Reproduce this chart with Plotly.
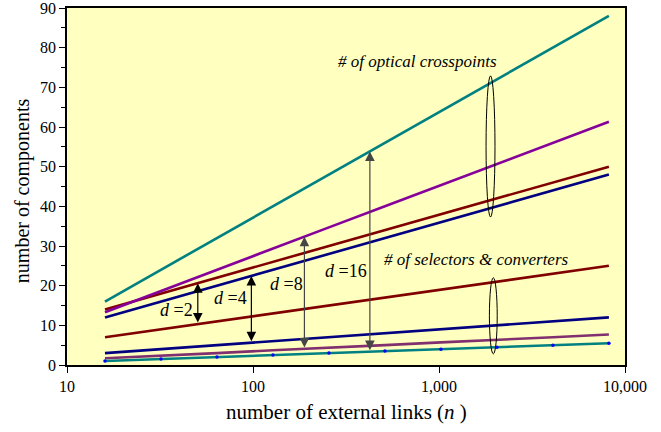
import numpy as np
import plotly.graph_objects as go

# ---- data ----
n_links = [16, 32, 64, 128, 256, 512, 1024, 2048, 4096, 8192]

cross_d2 = [14, 18, 22, 26, 30, 34, 38, 42, 46, 50]
cross_d4 = [12, 16, 20, 24, 28, 32, 36, 40, 44, 48]
cross_d8 = [13.3, 18.7, 24.0, 29.3, 34.7, 40.0, 45.3, 50.7, 56.0, 61.3]
cross_d16 = [16, 24, 32, 40, 48, 56, 64, 72, 80, 88]

sel_d2 = [7, 9, 11, 13, 15, 17, 19, 21, 23, 25]
sel_d4 = [3, 4, 5, 6, 7, 8, 9, 10, 11, 12]
sel_d8 = [1.7, 2.3, 3.0, 3.7, 4.3, 5.0, 5.7, 6.3, 7.0, 7.7]
sel_d16 = [1.0, 1.5, 2.0, 2.5, 3.0, 3.5, 4.0, 4.5, 5.0, 5.5]

d_values = [2, 4, 8, 16]
arrow_n = [50.5, 98, 189, 425]

x_tickvals = [10, 100, 1000, 10000]
x_ticktext = ["10", "100", "1,000", "10,000"]

FONT = "Liberation Serif, DejaVu Serif, serif"

fig = go.Figure()

def line(y, color, width=2.6, markers=False):
    fig.add_trace(go.Scatter(
        x=n_links, y=y, mode="lines+markers" if markers else "lines",
        line=dict(color=color, width=width),
        marker=dict(color="#0000FF", size=3.5) if markers else None,
        showlegend=False, hoverinfo="skip"))

# crosspoints
line(cross_d2, "#800000")
line(cross_d4, "#000080")
line(cross_d8, "#86009A")
line(cross_d16, "#008080")
# selectors & converters
line(sel_d2, "#800000")
line(sel_d4, "#000080")
line(sel_d8, "#80306E")
line(sel_d16, "#008080", markers=True)

upper = [cross_d2, cross_d4, cross_d8, cross_d16]
lower = [sel_d2, sel_d4, sel_d8, sel_d16]
arrow_colors = ["#000000", "#000000", "#454545", "#454545"]
logn = np.log2(n_links)
annotations = []
for d, na, up, lo, col in zip(d_values, arrow_n, upper, lower, arrow_colors):
    yu = float(np.interp(np.log2(na), logn, up))
    yl = float(np.interp(np.log2(na), logn, lo))
    annotations.append(dict(
        x=np.log10(na), y=yu, ax=np.log10(na), ay=yl,
        xref="x", yref="y", axref="x", ayref="y",
        text="", showarrow=True, arrowside="end+start",
        arrowhead=2, startarrowhead=2, arrowsize=1.6, startarrowsize=1.6,
        arrowwidth=1.2, arrowcolor=col, standoff=0, startstandoff=0))

label_pos = [(1.59, 13.9), (1.88, 17.0), (2.18, 20.3), (2.50, 23.7)]
for d, (lx, ly) in zip(d_values, label_pos):
    annotations.append(dict(
        x=lx, y=ly, xref="x", yref="y", showarrow=False,
        text=f"<i>d</i> =%d" % d,
        font=dict(family=FONT, size=18, color="#000000")))

annotations.append(dict(
    x=2.882, y=76.4, xref="x", yref="y", showarrow=False,
    text="<i># of optical crosspoints</i>",
    font=dict(family=FONT, size=17, color="#000000")))
annotations.append(dict(
    x=3.202, y=26.5, xref="x", yref="y", showarrow=False,
    text="<i># of selectors &amp; converters</i>",
    font=dict(family=FONT, size=17, color="#000000")))

# axis titles
annotations.append(dict(
    x=0.5, y=-0.132, xref="paper", yref="paper", showarrow=False,
    xanchor="center", yanchor="middle",
    text="number of external links (<i>n</i> )",
    font=dict(family=FONT, size=21, color="#000000")))
annotations.append(dict(
    x=-0.0806, y=0.487, xref="paper", yref="paper", showarrow=False,
    xanchor="center", yanchor="middle", textangle=-90,
    text="number of components",
    font=dict(family=FONT, size=20, color="#000000")))

shapes = [
    dict(type="circle", xref="paper", yref="y",
         x0=0.751, x1=0.767, y0=37.3, y1=72.9,
         line=dict(color="#000000", width=1)),
    dict(type="circle", xref="paper", yref="y",
         x0=0.757, x1=0.771, y0=2.8, y1=22.0,
         line=dict(color="#000000", width=1)),
]

fig.update_layout(
    width=661, height=432,
    margin=dict(l=67, r=36, t=8, b=67, autoexpand=False),
    paper_bgcolor="#FFFFFF",
    plot_bgcolor="#FFFFC0",
    font=dict(family=FONT, size=16, color="#000000"),
    showlegend=False,
    annotations=annotations,
    shapes=shapes,
    xaxis=dict(
        type="log", range=[1, 4], automargin=False,
        tickvals=x_tickvals, ticktext=x_ticktext,
        ticks="outside", ticklen=6, tickwidth=1.2, tickcolor="#000000",
        showline=True, linecolor="#000000", linewidth=1.5, mirror=True,
        showgrid=False, zeroline=False, ticklabeloverflow="allow",
        tickfont=dict(family=FONT, size=16),
    ),
    yaxis=dict(
        range=[0, 90], dtick=10, tick0=0, automargin=False,
        ticks="outside", ticklen=6, tickwidth=1.2, tickcolor="#000000",
        minor=dict(dtick=5, ticks="outside", ticklen=4, tickcolor="#000000", showgrid=False),
        showline=True, linecolor="#000000", linewidth=1.5, mirror=True,
        showgrid=False, zeroline=False, ticklabeloverflow="allow",
        tickfont=dict(family=FONT, size=16),
    ),
)

fig.write_html("out.html", config={"displayModeBar": False},
               post_script="document.body.style.margin='0';document.body.style.overflow='hidden';")
